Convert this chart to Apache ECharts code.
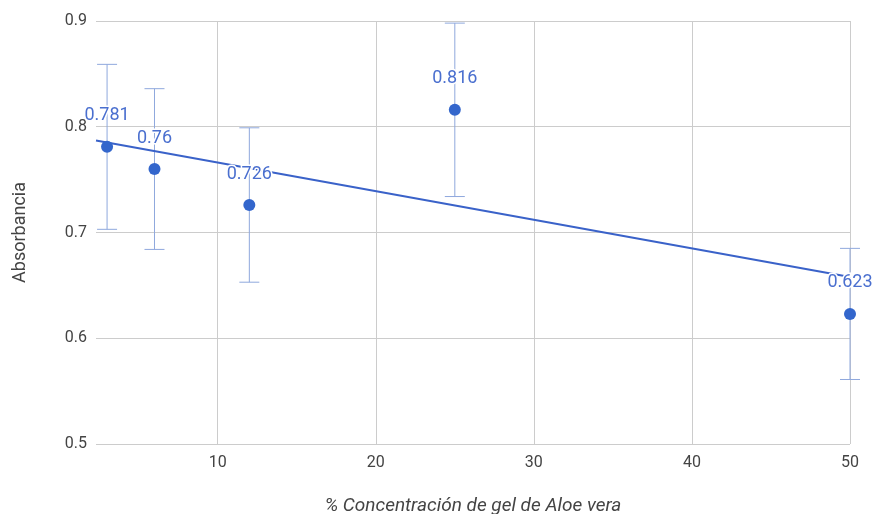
<!DOCTYPE html>
<html>
<head>
<meta charset="utf-8">
<script src="https://cdn.jsdelivr.net/npm/echarts@6/dist/echarts.min.js"></script>
<style>
html,body{margin:0;padding:0;background:#fff;}
#chart{width:874px;height:514px;}
</style>
</head>
<body>
<div id="chart"></div>
<script>
// Data
const concentrations = [3, 6, 12, 25, 50];
const absorbance = [0.781, 0.76, 0.726, 0.816, 0.623];
const errLow = [0.703, 0.684, 0.653, 0.734, 0.561];
const errHigh = [0.859, 0.836, 0.799, 0.898, 0.685];
const trendX = [2.3, 50];
const trendY = [0.787, 0.658];
const xTicks = [10, 20, 30, 40, 50];
const yTicks = [0.5, 0.6, 0.7, 0.8, 0.9];

const pts = concentrations.map((x, i) => [x, absorbance[i]]);
const errs = concentrations.map((x, i) => [x, errLow[i], errHigh[i]]);
const trend = trendX.map((x, i) => [x, trendY[i]]);

const chart = echarts.init(document.getElementById('chart'));
const font = 'Roboto, "Noto Sans", sans-serif';
chart.setOption({
  animation: false,
  textStyle: {fontFamily: font},
  grid: {left: 96, right: 24, top: 21, bottom: 70, containLabel: false, outerBoundsMode: 'none'},
  xAxis: {
    type: 'value', min: 2.3, max: 50,
    name: '% Concentración de gel de Aloe vera',
    nameLocation: 'middle', nameGap: 53,
    nameTextStyle: {fontSize: 19, fontStyle: 'italic', color: '#444', fontFamily: font},
    axisLine: {show: false},
    axisTick: {show: false, customValues: xTicks},
    axisLabel: {customValues: xTicks, fontSize: 16, color: '#444', margin: 11, fontFamily: font},
    splitLine: {show: true, lineStyle: {color: '#cccccc', width: 1}}
  },
  yAxis: {
    type: 'value', min: 0.5, max: 0.9, interval: 0.1,
    name: 'Absorbancia',
    nameLocation: 'middle', nameGap: 67,
    nameTextStyle: {fontSize: 18, color: '#444', fontFamily: font},
    axisLine: {show: false},
    axisTick: {show: false},
    axisLabel: {fontSize: 16, color: '#444', margin: 9, fontFamily: font,
      formatter: v => String(parseFloat(v.toFixed(1)))},
    splitLine: {show: true, lineStyle: {color: '#cccccc', width: 1}}
  },
  series: [
    {
      type: 'custom',
      z: 2,
      data: errs,
      encode: {x: 0, y: [1, 2]},
      renderItem: function (params, api) {
        const x = api.value(0);
        const lo = api.coord([x, api.value(1)]);
        const hi = api.coord([x, api.value(2)]);
        const half = 10;
        const st = {stroke: '#8fa8dd', lineWidth: 1};
        return {
          type: 'group',
          children: [
            {type: 'line', shape: {x1: lo[0], y1: lo[1], x2: hi[0], y2: hi[1]}, style: st},
            {type: 'line', shape: {x1: lo[0] - half, y1: lo[1], x2: lo[0] + half, y2: lo[1]}, style: st},
            {type: 'line', shape: {x1: hi[0] - half, y1: hi[1], x2: hi[0] + half, y2: hi[1]}, style: st}
          ]
        };
      }
    },
    {
      type: 'line',
      z: 3,
      data: trend,
      symbol: 'none',
      lineStyle: {color: '#3a62c9', width: 2},
      silent: true
    },
    {
      type: 'scatter',
      z: 5,
      data: pts,
      symbolSize: 12,
      itemStyle: {color: '#3366cc', opacity: 1},
      label: {
        show: true, position: 'top', distance: 16,
        fontSize: 18, color: '#4a6fcf', fontFamily: font,
        textBorderColor: '#ffffff', textBorderWidth: 3,
        formatter: p => String(p.value[1])
      }
    }
  ]
});
</script>
</body>
</html>
